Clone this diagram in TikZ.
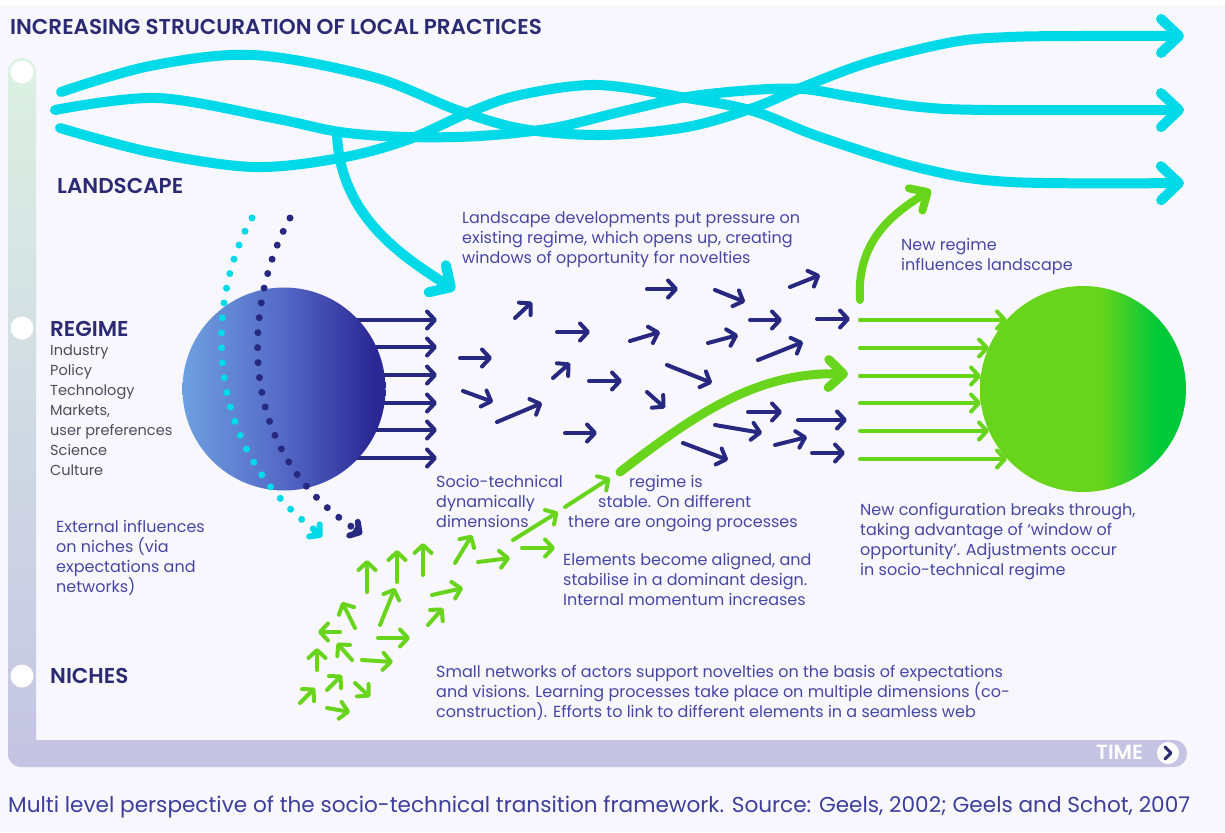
\documentclass[tikz,border=0pt]{standalone}
\usepackage{fontspec}
\setmainfont{Poppins}
\newfontfamily\labelfont{Poppins SemiBold}
\usetikzlibrary{arrows.meta}

% palette
\definecolor{paper}{HTML}{F8F7FD}
\definecolor{landcyan}{HTML}{00D9E7}
\definecolor{navy}{HTML}{27287F}
\definecolor{labelnavy}{HTML}{2A2B72}
\definecolor{bodyblue}{HTML}{4647A5}
\definecolor{listgray}{HTML}{4D4C5C}
\definecolor{niche}{HTML}{69D41C}
\definecolor{nichedark}{HTML}{00C93A}
\definecolor{axislav}{HTML}{C5C4E3}
\definecolor{axisgreen}{HTML}{DDF1E3}
\definecolor{axiscyan}{HTML}{D6F0F7}
\definecolor{capblue}{HTML}{3C3E9C}
\definecolor{regimelight}{HTML}{6EA0E0}
\definecolor{regimemid}{HTML}{5468C6}
\definecolor{regimedark}{HTML}{2A2894}

% left-to-right fills of the two regime spheres
\pgfdeclarehorizontalshading{blueregime}{100bp}{color(0bp)=(regimelight); color(25bp)=(regimelight); color(50bp)=(regimemid); color(72bp)=(regimedark); color(100bp)=(regimedark)}
\pgfdeclarehorizontalshading{greenregime}{100bp}{color(0bp)=(niche); color(25bp)=(niche); color(54bp)=(niche); color(68bp)=(nichedark); color(100bp)=(nichedark)}

\tikzset{
  landline/.style={landcyan, line width=10pt, line cap=round, line join=round},
  landarrow/.style={landline, -{Straight Barb[round,length=18pt,width=34pt]}},
  barrow/.style={navy, line width=4pt, line cap=round, -{Straight Barb[round,length=8pt,width=17pt]}},
  garrow/.style={niche, line width=4pt, line cap=round, -{Straight Barb[round,length=8pt,width=17pt]}},
  levellabel/.style={anchor=base west, inner sep=0pt, text=labelnavy, font=\fontsize{21.5}{24}\selectfont\labelfont},
  % multi-line texts are anchored at the baseline of their last line
  bodytext/.style={anchor=base west, inner sep=0pt, align=left, text=bodyblue, font=\fontsize{16}{20}\selectfont},
  listtext/.style={bodytext, text=listgray, font=\fontsize{14.5}{20}\selectfont},
  levelmark/.style={circle, fill=white, minimum size=23pt, inner sep=0pt},
  dotted path/.style={line width=7pt, line cap=round, dash pattern=on 0pt off 15pt},
}

\begin{document}
\begin{tikzpicture}[x=1pt,y=-1pt]
\useasboundingbox (0,0) rectangle (1225,832);
\fill[white] (0,0) rectangle (1225,832);
\fill[paper] (0,6) rectangle (1225,832);

% time / level axis
\shade[top color=axisgreen, middle color=axiscyan, bottom color=axislav, rounded corners=14pt]
  (8,58) rectangle (36,767);
\fill[axislav, rounded corners=13pt] (8,740) rectangle (1187,767);
\node[levelmark] (mlandscape) at (22,72) {};
\node[levelmark] (mregime) at (22,328) {};
\node[levelmark] (mniches) at (22,676) {};
\node[anchor=base west, inner sep=0pt, text=white, font=\fontsize{20.5}{22}\selectfont\labelfont] (timelabel) at (1096,759.5) {TIME};
\node[circle, fill=white, minimum size=22pt, inner sep=0pt] (timeicon) at (1168,753) {};
\draw[labelnavy, line width=3pt, line cap=round, line join=round] (1165,747) -- (1171,753) -- (1165,759);

% headings
\node[levellabel] (title) at (10,34.5) {INCREASING STRUCURATION OF LOCAL PRACTICES};
\node[levellabel] (landscape) at (57,193) {LANDSCAPE};
\node[levellabel] (regimelabel) at (50,336) {REGIME};
\node[levellabel] (nicheslabel) at (50,683) {NICHES};

% landscape developments
\draw[landarrow] plot[smooth, tension=0.55] coordinates {(61,92) (150,66) (253,55) (373,77) (457,110) (523,129) (603,135) (687,127) (753,108) (803,87) (870,62) (953,42) (1010,37) (1080,36) (1184,36)};
\draw[landarrow] plot[smooth, tension=0.55] coordinates {(55,110) (157,98) (273,118) (340,132) (407,137) (480,136) (553,128) (620,112) (687,97) (753,90) (803,89) (853,97) (920,107) (990,110) (1184,110)};
\draw[landarrow] plot[smooth, tension=0.55] coordinates {(60,128) (150,152) (253,167) (340,158) (407,140) (470,112) (520,95) (597,85) (687,98) (753,111) (820,137) (920,168) (1010,182) (1184,183)};
\coordinate (branch) at (337,134);
\coordinate (window) at (455,290);
\draw[landline, -{Straight Barb[round,length=16pt,width=32pt]}] (branch) .. controls (340,215) and (400,255) .. (window);

% regime
\foreach \y in {320,347,375,403,430,458}
  \draw[barrow] (340,\y) -- (437,\y);
\node[circle, minimum size=203pt, inner sep=0pt, shade, shading=blueregime] (regime) at (284,389) {};
\node[listtext] (regimelist) at (50,475) {Industry\\Policy\\Technology\\Markets,\\user preferences\\Science\\Culture};

% external influences on niches
\draw[landcyan, dotted path] (252,218) .. controls (210,290) and (195,440) .. (316,531);
\draw[landcyan, line width=6pt, -{Straight Barb[round,length=7pt,width=16pt]}] (314,530) -- (322,537);
\draw[navy, dotted path] (290,218) .. controls (250,290) and (225,440) .. (352,527);
\draw[navy, line width=6pt, -{Straight Barb[round,length=7pt,width=16pt]}] (354,529) -- (362,534);

% socio-technical regime dynamics
\foreach \xa/\ya/\xb/\yb in {515/318/532/302, 460/358/492/358, 463/391/493/402, 497/422/542/403,
  557/332/590/332, 553/378/570/363, 589/381/622/381, 565/433/597/433, 647/289/678/289,
  630/341/660/332, 667/365/712/383, 647/392/665/408, 715/290/745/302, 708/343/738/335,
  750/320/782/320, 790/287/820/275, 758/360/803/342, 817/319/850/319, 748/412/782/412,
  715/425/762/433, 683/443/728/460, 775/445/807/437, 798/420/847/420, 812/453/845/453}
  \draw[barrow] (\xa,\ya) -- (\xb,\yb);

% niche novelties
\foreach \xa/\ya/\xb/\yb in {565/507/610/478, 513/540/558/512, 522/548/555/548, 455/563/472/535,
  478/562/510/558, 423/575/423/543, 397/582/397/550, 367/592/367/560, 432/595/463/588,
  428/625/443/608, 380/625/395/588, 378/638/410/638, 355/628/342/602, 340/632/318/632,
  362/660/393/662, 352/660/337/643, 317/670/317/648, 327/690/342/675, 355/683/370/697,
  300/703/315/688, 327/708/350/712}
  \draw[garrow] (\xa,\ya) -- (\xb,\yb);
\coordinate (breakstart) at (620,472);
\coordinate (breakend) at (848,374);
\draw[niche, line width=9pt, line cap=round, -{Straight Barb[round,length=15pt,width=28pt]}]
  (breakstart) .. controls (700,410) and (760,372) .. (breakend);

% new regime
\foreach \y/\t in {320/1007, 348/989, 376/981, 403/981, 431/989, 459/1007}
  \draw[garrow] (860,\y) -- (\t,\y);
\node[circle, minimum size=206pt, inner sep=0pt, shade, shading=greenregime] (newregime) at (1083,389) {};
\coordinate (feedback) at (860,300);
\coordinate (feedtip) at (931,190);
\draw[niche, line width=8pt, line cap=round, -{Straight Barb[round,length=14pt,width=26pt]}]
  (feedback) .. controls (856,240) and (895,212) .. (feedtip);

% annotations
\node[bodytext] (pressure) at (462,263) {Landscape developments put pressure on\\existing regime, which opens up, creating\\windows of opportunity for novelties};
\node[bodytext] (influences) at (901,270) {New regime\\influences landscape};
\node[bodytext] (external) at (56,592) {External influences\\on niches (via\\expectations and\\networks)};
\node[bodytext] (sociotech) at (436,527) {Socio-technical\\dynamically\\dimensions};
\node[bodytext] (stable1) at (629,487) {regime is};
\node[bodytext] (stable2) at (598,507) {stable. On different};
\node[bodytext] (stable3) at (568,527) {there are ongoing processes};
\node[bodytext] (aligned) at (563,605) {Elements become aligned, and\\stabilise in a dominant design.\\Internal momentum increases};
\node[bodytext] (breakthrough) at (860,575) {New configuration breaks through,\\taking advantage of ‘window of\\opportunity’. Adjustments occur\\in socio-technical regime};
\node[bodytext] (networks) at (436,717) {Small networks of actors support novelties on the basis of expectations\\and visions. Learning processes take place on multiple dimensions (co-\\construction). Efforts to link to different elements in a seamless web};

\node[anchor=base west, inner sep=0pt, text=capblue, font=\fontsize{21.6}{24}\selectfont] (caption) at (8,812) {Multi level perspective of the socio-technical transition framework. Source: Geels, 2002; Geels and Schot, 2007};
\end{tikzpicture}
\end{document}
